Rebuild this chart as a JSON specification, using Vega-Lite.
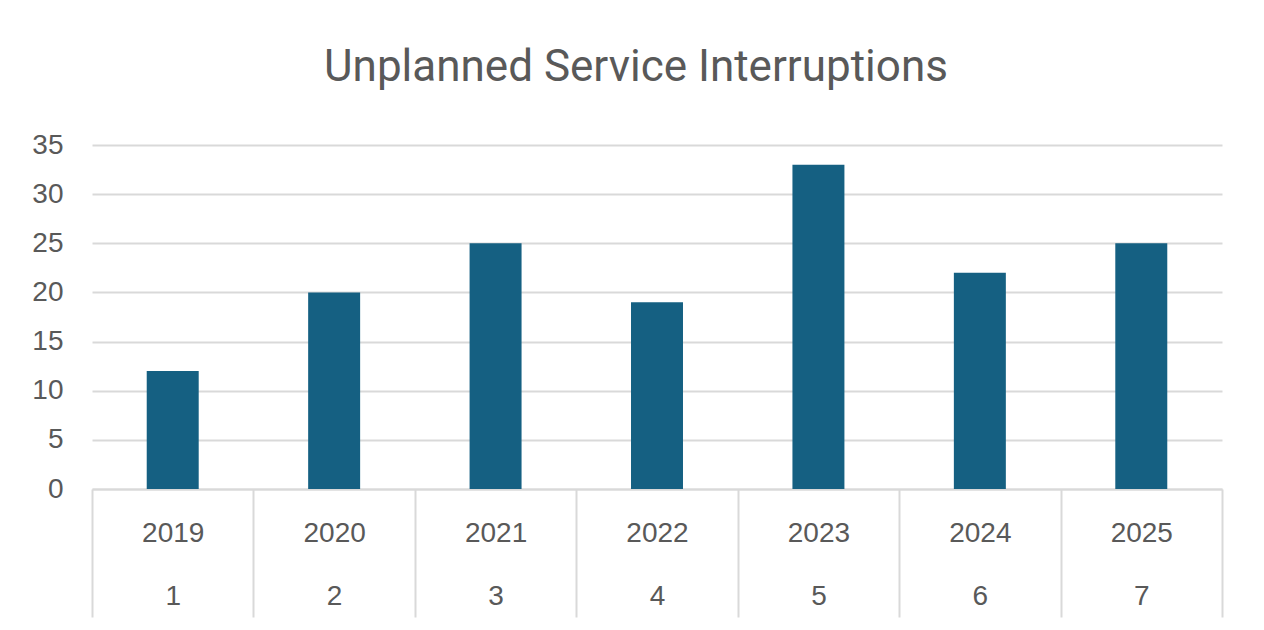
{
  "$schema": "https://vega.github.io/schema/vega-lite/v6.json",
  "width": 1130,
  "height": 344,
  "autosize": {"type": "none"},
  "padding": {"left": 92, "top": 145, "right": 42, "bottom": 141},
  "background": "white",
  "title": {
    "text": "Unplanned Service Interruptions",
    "font": "Roboto",
    "fontSize": 44,
    "fontWeight": "normal",
    "color": "#595959",
    "anchor": "middle",
    "frame": "group",
    "baseline": "alphabetic",
    "offset": 6,
    "dx": -21
  },
  "data": {
    "values": [
      {"label": "2019|1", "value": 12},
      {"label": "2020|2", "value": 20},
      {"label": "2021|3", "value": 25},
      {"label": "2022|4", "value": 19},
      {"label": "2023|5", "value": 33},
      {"label": "2024|6", "value": 22},
      {"label": "2025|7", "value": 25}
    ]
  },
  "mark": {"type": "bar", "color": "#156082", "width": {"band": 0.322}},
  "encoding": {
    "x": {
      "field": "label",
      "type": "nominal",
      "sort": null,
      "scale": {"paddingInner": 0, "paddingOuter": 0},
      "axis": {
        "title": null,
        "labelAngle": 0,
        "labelExpr": "isValid(datum.value) ? split(datum.value, '|') : ''",
        "labelFont": "Liberation Sans",
        "labelFontSize": 28,
        "labelColor": "#595959",
        "labelLineHeight": 63,
        "labelBaseline": "top",
        "labelPadding": -98,
        "tickBand": "extent",
        "tickSize": 128,
        "tickColor": "#d9d9d9",
        "tickWidth": 2,
        "domainColor": "#d9d9d9",
        "domainWidth": 2
      }
    },
    "y": {
      "field": "value",
      "type": "quantitative",
      "scale": {"domain": [0, 35], "nice": false},
      "axis": {
        "title": null,
        "values": [0, 5, 10, 15, 20, 25, 30, 35],
        "domain": false,
        "ticks": false,
        "labelFont": "Liberation Sans",
        "labelFontSize": 28,
        "labelColor": "#595959",
        "labelPadding": 29,
        "gridColor": "#d9d9d9",
        "gridWidth": 2
      }
    }
  },
  "config": {
    "view": {"stroke": null}
  }
}
